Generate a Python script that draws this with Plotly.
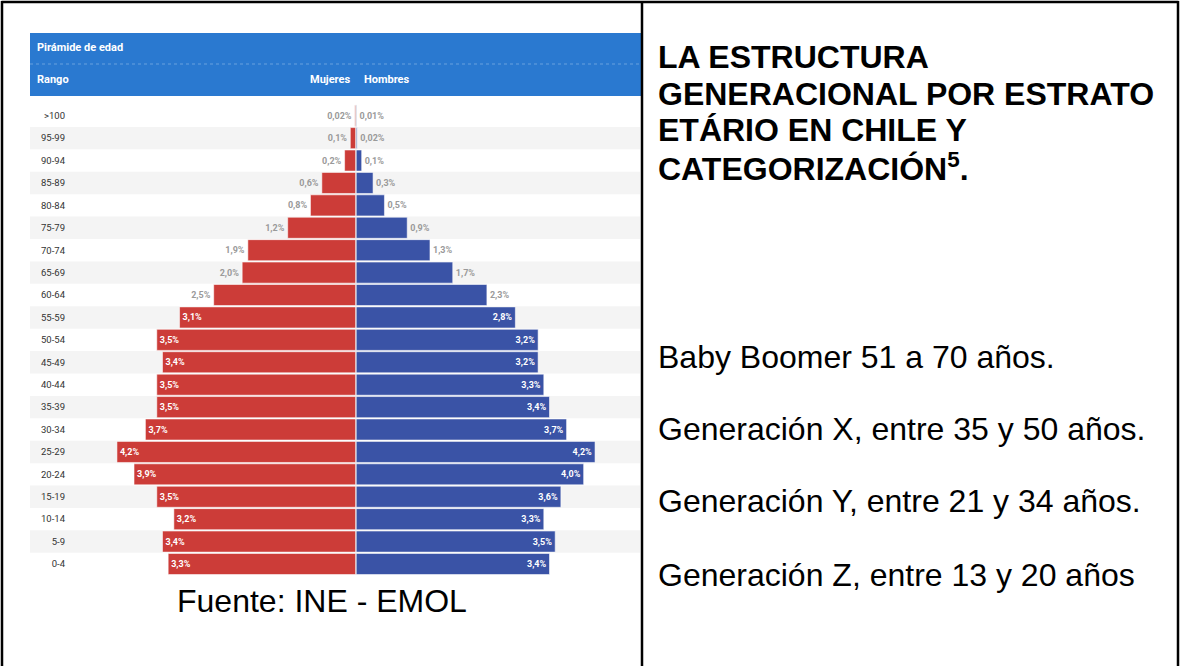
import plotly.graph_objects as go

W, H = 1180, 666

rangos = [">100", "95-99", "90-94", "85-89", "80-84", "75-79", "70-74", "65-69",
          "60-64", "55-59", "50-54", "45-49", "40-44", "35-39", "30-34", "25-29",
          "20-24", "15-19", "10-14", "5-9", "0-4"]
mujeres = [0.02, 0.1, 0.2, 0.6, 0.8, 1.2, 1.9, 2.0, 2.5, 3.1, 3.5, 3.4, 3.5, 3.5,
           3.7, 4.2, 3.9, 3.5, 3.2, 3.4, 3.3]
hombres = [0.01, 0.02, 0.1, 0.3, 0.5, 0.9, 1.3, 1.7, 2.3, 2.8, 3.2, 3.2, 3.3, 3.4,
           3.7, 4.2, 4.0, 3.6, 3.3, 3.5, 3.4]

titulo_lineas = ["LA ESTRUCTURA", "GENERACIONAL POR ESTRATO", "ETÁRIO EN CHILE Y",
                 "CATEGORIZACIÓN<sup>5</sup>."]
generaciones = ["Baby Boomer 51 a 70 años.", "Generación X, entre 35 y 50 años.",
                "Generación Y, entre 21 y 34 años.", "Generación Z, entre 13 y 20 años"]
fuente = "Fuente: INE - EMOL"

RED = "#cc3c38"
BLUE = "#3a53a6"
HEADER = "#2a79d0"
CHART_FONT = "Roboto, Liberation Sans, Arial"
DOC_FONT = "Liberation Sans, Arial"


def px(x):
    return x / W


def py(y):
    return 1 - y / H


def fmt(v):
    s = f"{v:.2f}" if v < 0.1 else f"{v:.1f}"
    return s.replace(".", ",") + "%"


def pos(v):
    return "inside" if v >= 2.8 else "outside"


fig = go.Figure()
fig.add_trace(go.Bar(
    y=rangos, x=[-v for v in mujeres], orientation="h", name="Mujeres",
    marker=dict(color=RED, line=dict(color="rgba(255,255,255,0.55)", width=1)),
    text=[fmt(v) for v in mujeres], textposition=[pos(v) for v in mujeres],
    insidetextanchor="end", textangle=0, cliponaxis=False,
    insidetextfont=dict(color="white", size=9, family=CHART_FONT, weight="bold"),
    outsidetextfont=dict(color="#9a9a9a", size=9, family=CHART_FONT, weight="bold"),
    hoverinfo="skip",
))
fig.add_trace(go.Bar(
    y=rangos, x=hombres, orientation="h", name="Hombres",
    marker=dict(color=BLUE, line=dict(color="rgba(255,255,255,0.55)", width=1)),
    text=[fmt(v) for v in hombres], textposition=[pos(v) for v in hombres],
    insidetextanchor="end", textangle=0, cliponaxis=False,
    insidetextfont=dict(color="white", size=9, family=CHART_FONT, weight="bold"),
    outsidetextfont=dict(color="#9a9a9a", size=9, family=CHART_FONT, weight="bold"),
    hoverinfo="skip",
))

shapes = []
# shaded alternating rows
for i in range(len(rangos)):
    if i % 2 == 1:
        shapes.append(dict(type="rect", xref="paper", yref="y", x0=px(30), x1=px(640),
                           y0=i - 0.5, y1=i + 0.5, fillcolor="#f4f4f4",
                           line=dict(width=0), layer="below"))
# header block
shapes.append(dict(type="rect", xref="paper", yref="paper", x0=px(30), x1=px(641),
                   y0=py(96), y1=py(33), fillcolor=HEADER, line=dict(width=0)))
shapes.append(dict(type="line", xref="paper", yref="paper", x0=px(30), x1=px(641),
                   y0=py(64), y1=py(64),
                   line=dict(color="rgba(255,255,255,0.3)", width=1, dash="dot")))
# center line
shapes.append(dict(type="line", xref="x", yref="y", x0=0, x1=0, y0=-0.5, y1=len(rangos) - 0.5,
                   line=dict(color="rgba(235,235,235,0.9)", width=1), layer="above"))
# document table borders
border = dict(color="black", width=2.5)
shapes.append(dict(type="line", xref="paper", yref="paper", x0=px(1.5), x1=px(1178.5),
                   y0=py(2), y1=py(2), line=border))
shapes.append(dict(type="line", xref="paper", yref="paper", x0=px(2), x1=px(2),
                   y0=py(1), y1=py(666), line=border))
shapes.append(dict(type="line", xref="paper", yref="paper", x0=px(1178), x1=px(1178),
                   y0=py(1), y1=py(666), line=border))
shapes.append(dict(type="line", xref="paper", yref="paper", x0=px(642), x1=px(642),
                   y0=py(1), y1=py(666), line=border))

ann = []
ann.append(dict(text="<b>Pirámide de edad</b>", x=px(35), y=py(47), xref="paper", yref="paper",
                xanchor="left", yanchor="middle", showarrow=False,
                font=dict(color="white", size=11, family=CHART_FONT)))
ann.append(dict(text="<b>Rango</b>", x=px(35), y=py(80), xref="paper", yref="paper",
                xanchor="left", yanchor="middle", showarrow=False,
                font=dict(color="white", size=11, family=CHART_FONT)))
ann.append(dict(text="<b>Mujeres</b>", x=px(352), y=py(80), xref="paper", yref="paper",
                xanchor="right", yanchor="middle", showarrow=False,
                font=dict(color="white", size=11, family=CHART_FONT)))
ann.append(dict(text="<b>Hombres</b>", x=px(362), y=py(80), xref="paper", yref="paper",
                xanchor="left", yanchor="middle", showarrow=False,
                font=dict(color="white", size=11, family=CHART_FONT)))
ann.append(dict(text=fuente, x=px(322), y=py(601), xref="paper", yref="paper",
                xanchor="center", yanchor="middle", showarrow=False,
                font=dict(color="black", size=32, family=DOC_FONT)))
for line, yc in zip(titulo_lineas, [57, 94, 130, 167]):
    ann.append(dict(text=f"<b>{line}</b>", x=px(656), y=py(yc), xref="paper", yref="paper",
                    xanchor="left", yanchor="middle", showarrow=False,
                    font=dict(color="black", size=32, family=DOC_FONT)))
for line, yc in zip(generaciones, [357, 429, 501, 575]):
    ann.append(dict(text=line, x=px(656), y=py(yc), xref="paper", yref="paper",
                    xanchor="left", yanchor="middle", showarrow=False,
                    font=dict(color="black", size=32, family=DOC_FONT)))

fig.update_layout(
    width=W, height=H, margin=dict(l=0, r=0, t=0, b=0),
    paper_bgcolor="white", plot_bgcolor="rgba(0,0,0,0)",
    barmode="overlay", bargap=0.06, showlegend=False,
    xaxis=dict(domain=[px(68), px(640)], range=[-5.06, 4.99], visible=False, fixedrange=True),
    yaxis=dict(domain=[py(575.2), py(104.5)], type="category", categoryorder="array",
               categoryarray=rangos, range=[len(rangos) - 0.5, -0.5], showgrid=False,
               zeroline=False, showline=False, ticks="", ticklabelstandoff=2,
               tickfont=dict(size=9.5, color="#333", family=CHART_FONT), fixedrange=True),
    shapes=shapes, annotations=ann,
)

fig.write_html("out.html", config={"displayModeBar": False, "staticPlot": True},
               post_script="document.body.style.margin='0';document.body.style.overflow='hidden';")
